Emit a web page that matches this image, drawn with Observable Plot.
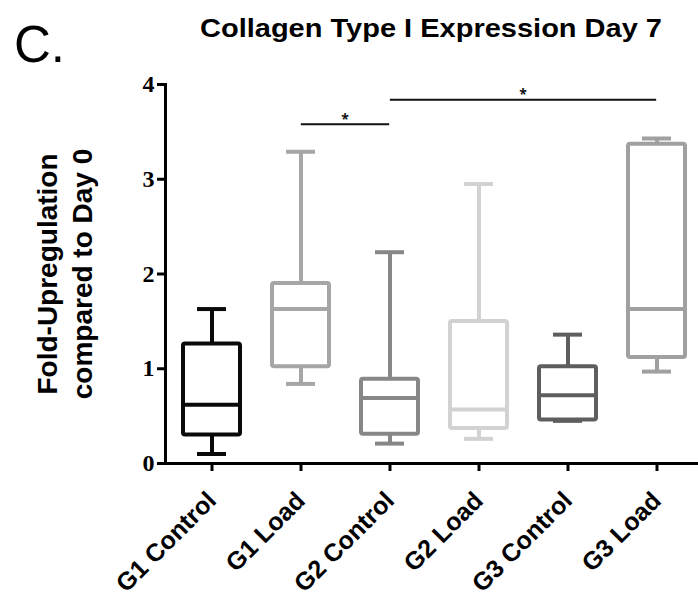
<!DOCTYPE html>
<html>
<head>
<meta charset="utf-8">
<script src="https://cdn.jsdelivr.net/npm/d3@7"></script>
<script src="https://cdn.jsdelivr.net/npm/@observablehq/plot@0.6"></script>
<style>
  html, body { margin: 0; padding: 0; background: #fff; }
  #wrap { position: relative; width: 698px; height: 601px; overflow: hidden; }
  #chart, #head { position: absolute; left: 0; top: 0; }
</style>
</head>
<body>
<div id="wrap">
  <div id="chart"></div>
  <svg id="head" width="698" height="80">
    <text x="14" y="62" font-family="Liberation Sans, Arial, sans-serif" font-size="51" fill="#000">C.</text>
    <text x="200" y="37" font-family="Liberation Sans, Arial, sans-serif" font-size="25" font-weight="bold" fill="#000"
      textLength="462" lengthAdjust="spacingAndGlyphs">Collagen Type I Expression Day 7</text>
  </svg>
</div>
<script>
const groups   = ["G1 Control", "G1 Load", "G2 Control", "G2 Load", "G3 Control", "G3 Load"];
const whiskLow = [0.10, 0.84, 0.21, 0.26, 0.45, 0.97];
const q1       = [0.30, 1.02, 0.31, 0.37, 0.46, 1.12];
const median   = [0.62, 1.63, 0.69, 0.57, 0.72, 1.63];
const q3       = [1.26, 1.90, 0.89, 1.50, 1.02, 3.37];
const whiskHigh= [1.63, 3.29, 2.23, 2.95, 1.36, 3.43];
const colors   = ["#0a0a0a", "#a6a6a6", "#878787", "#d2d2d2", "#5e5e5e", "#a0a0a0"];
const yTicks   = [0, 1, 2, 3, 4];
const sigBars  = [
  {from: "G1 Load", to: "G2 Control", y: 3.58, label: "*"},
  {from: "G2 Control", to: "G3 Load", y: 3.84, label: "*"}
];

const rows = groups.map((g, i) => ({
  g, lo: whiskLow[i], q1: q1[i], med: median[i], q3: q3[i], hi: whiskHigh[i], c: colors[i]
}));

const W = 698, H = 601;
const mL = 165, mR = -5, mT = 84, mB = 138;
const bw = (W - mR - mL) / groups.length;
// star sits midway between the two bracketed groups: at the start of band index ceil(mid)
const sigRows = sigBars.map(s => {
  const mid = (groups.indexOf(s.from) + groups.indexOf(s.to)) / 2;
  return {...s, at: groups[Math.ceil(mid)], half: !Number.isInteger(mid)};
});

const plot = Plot.plot({
  width: W, height: H,
  marginLeft: mL, marginRight: mR, marginTop: mT, marginBottom: mB,
  style: {background: "transparent", overflow: "visible"},
  x: {type: "band", domain: groups, padding: 0, label: null},
  y: {domain: [0, 4], label: null},
  color: {type: "identity"},
  marks: [
    Plot.ruleX(rows, {x: "g", y1: "lo", y2: "q1", stroke: "c", strokeWidth: 4}),
    Plot.ruleX(rows, {x: "g", y1: "q3", y2: "hi", stroke: "c", strokeWidth: 4}),
    Plot.rect(rows, {x: "g", y1: "q1", y2: "q3", fill: "white", stroke: "c", strokeWidth: 4, rx: 2, insetLeft: 16, insetRight: 16}),
    Plot.tickY(rows, {x: "g", y: "med", stroke: "c", strokeWidth: 4, insetLeft: 16, insetRight: 16}),
    Plot.tickY(rows, {x: "g", y: "lo", stroke: "c", strokeWidth: 4, insetLeft: 30, insetRight: 30}),
    Plot.tickY(rows, {x: "g", y: "hi", stroke: "c", strokeWidth: 4, insetLeft: 30, insetRight: 30}),
    // significance bars: from centre of one group to centre of the other
    Plot.ruleY(sigRows, {y: "y", x1: "from", x2: "to", insetLeft: bw / 2, insetRight: bw / 2, stroke: "#111", strokeWidth: 2}),
    Plot.text(sigRows.filter(d => d.half), {x: "at", y: "y", text: "label", dx: -bw / 2, dy: -5, fontSize: 14, fontWeight: "bold", fill: "#111"}),
    Plot.text(sigRows.filter(d => !d.half), {x: "at", y: "y", text: "label", dy: -5, fontSize: 14, fontWeight: "bold", fill: "#111"}),
    // axes
    Plot.ruleY([0], {stroke: "#000", strokeWidth: 3}),
    Plot.axisY({ticks: yTicks, tickFormat: "d", tickSize: 8, tickPadding: 3, strokeWidth: 3, fontSize: 24, fontWeight: "bold",
      fontFamily: "Liberation Serif, Times New Roman, serif", label: null}),
    Plot.axisX({tickSize: 8, strokeWidth: 3, tickRotate: -45, fontSize: 25, fontWeight: "bold",
      fontFamily: "Liberation Sans, Arial, sans-serif", tickPadding: 25, label: null}),
    Plot.frame({anchor: "left", stroke: "#000", strokeWidth: 3}),
    Plot.text(["Fold-Upregulation\ncompared to Day 0"], {frameAnchor: "left", rotate: -90, dx: -102,
      fontSize: 28, fontWeight: "bold", fontFamily: "Liberation Sans, Arial, sans-serif", lineHeight: 1.25, textAnchor: "middle", fill: "#000"})
  ]
});

document.getElementById("chart").appendChild(plot);
</script>
</body>
</html>
